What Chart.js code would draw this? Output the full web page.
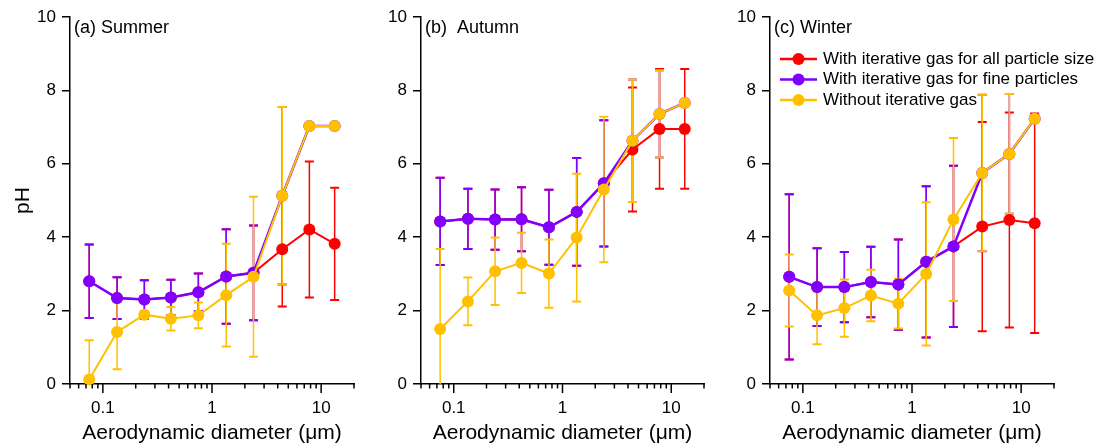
<!DOCTYPE html>
<html>
<head>
<meta charset="utf-8">
<script src="https://cdn.jsdelivr.net/npm/chart.js@4.4.1/dist/chart.umd.min.js"></script>
<style>
  html, body { margin: 0; padding: 0; background: #fff; }
  #wrap { position: relative; width: 1102px; height: 446px; overflow: hidden; }
  .panel { position: absolute; top: 0; height: 446px; }
</style>
</head>
<body>
<div id="wrap">
  <div class="panel" style="left:0;width:370px"><canvas id="summer" width="370" height="446"></canvas></div>
  <div class="panel" style="left:370px;width:360px"><canvas id="autumn" width="360" height="446"></canvas></div>
  <div class="panel" style="left:730px;width:372px"><canvas id="winter" width="372" height="446"></canvas></div>
</div>
<script>
// aerodynamic diameter (um), stage midpoints
const sizes = [0.075, 0.135, 0.24, 0.42, 0.75, 1.35, 2.4, 4.4, 7.8, 13.3];

const seriesLabels = [
  'With iterative gas for all particle size',
  'With iterative gas for fine particles',
  'Without iterative gas'
];
const seriesColors = ['#ff0000', '#8000ff', '#ffc000'];

// x ticks (log axis), only decades carry a label
const xTickValues = [0.05, 0.06, 0.07, 0.08, 0.09, 0.1, 0.2, 0.3, 0.4, 0.5, 0.6, 0.7, 0.8, 0.9,
  1, 2, 3, 4, 5, 6, 7, 8, 9, 10, 20];
const xMajorTicks = [0.1, 1, 10];
const yTickValues = [0, 2, 4, 6, 8, 10];

// Summer
const allSummer = [2.80, 2.34, 2.30, 2.36, 2.50, 2.93, 3.03, 3.67, 4.21, 3.82];
const allSummerErr = [1.00, 0.57, 0.53, 0.48, 0.51, 1.29, 1.29, 1.56, 1.85, 1.53];
const fineSummer = [2.80, 2.34, 2.30, 2.36, 2.50, 2.93, 3.03, 5.13, 7.03, 7.03];
const fineSummerErr = [1.00, 0.57, 0.53, 0.48, 0.51, 1.29, 1.29, 2.42, 0.05, 0.05];
const noneSummer = [0.12, 1.42, 1.89, 1.78, 1.87, 2.42, 2.92, 5.13, 7.03, 7.03];
const noneSummerErr = [1.07, 1.02, 0.10, 0.32, 0.35, 1.40, 2.18, 2.42, 0.05, 0.05];

// Autumn
const allAutumn = [4.43, 4.50, 4.48, 4.49, 4.27, 4.69, 5.47, 6.39, 6.95, 6.95];
const allAutumnErr = [1.19, 0.82, 0.82, 0.87, 1.02, 1.47, 1.72, 1.69, 1.63, 1.63];
const fineAutumn = [4.43, 4.50, 4.48, 4.49, 4.27, 4.69, 5.47, 6.63, 7.36, 7.66];
const fineAutumnErr = [1.19, 0.82, 0.82, 0.87, 1.02, 1.47, 1.72, 1.67, 1.19, 0.05];
const noneAutumn = [1.50, 2.25, 3.07, 3.30, 3.01, 3.99, 5.30, 6.63, 7.36, 7.66];
const noneAutumnErr = [2.18, 0.65, 0.92, 0.82, 0.93, 1.74, 1.98, 1.67, 1.19, 0.05];

// Winter
const allWinter = [2.92, 2.64, 2.64, 2.78, 2.71, 3.33, 3.75, 4.29, 4.47, 4.38];
const allWinterErr = [2.25, 1.06, 0.96, 0.96, 1.23, 2.06, 2.20, 2.85, 2.93, 2.99];
const fineWinter = [2.92, 2.64, 2.64, 2.78, 2.71, 3.33, 3.75, 5.75, 6.27, 7.23];
const fineWinterErr = [2.25, 1.06, 0.96, 0.96, 1.23, 2.06, 2.20, 2.13, 1.63, 0.08];
const noneWinter = [2.55, 1.87, 2.07, 2.41, 2.19, 3.00, 4.48, 5.75, 6.27, 7.23];
const noneWinterErr = [0.98, 0.79, 0.78, 0.70, 0.68, 1.95, 2.22, 2.13, 1.63, 0.08];

const FONT = 'Arial, "Liberation Sans", sans-serif';
Chart.defaults.font.family = FONT;
Chart.defaults.color = '#000';

// error bars, drawn under the lines, red first
const errorBarPlugin = {
  id: 'errorBars',
  beforeDatasetsDraw(chart) {
    const { ctx, chartArea, scales: { x, y } } = chart;
    ctx.save();
    ctx.beginPath();
    ctx.rect(chartArea.left, chartArea.top, chartArea.right - chartArea.left, chartArea.bottom - chartArea.top);
    ctx.clip();
    for (let d = chart.data.datasets.length - 1; d >= 0; d--) {
      const ds = chart.data.datasets[d];
      ctx.strokeStyle = ds.borderColor;
      ds.data.forEach((p, i) => {
        const e = ds.errors[i];
        const px = x.getPixelForValue(p.x);
        const top = y.getPixelForValue(p.y + e);
        const bot = y.getPixelForValue(p.y - e);
        ctx.lineWidth = 1.5;
        ctx.beginPath();
        ctx.moveTo(px, top);
        ctx.lineTo(px, bot);
        ctx.stroke();
        ctx.lineWidth = 2;
        ctx.beginPath();
        ctx.moveTo(px - 4.5, top);
        ctx.lineTo(px + 4.5, top);
        ctx.moveTo(px - 4.5, bot);
        ctx.lineTo(px + 4.5, bot);
        ctx.stroke();
      });
    }
    ctx.restore();
  }
};

// log tick marks, panel tag and the legend
const decorPlugin = {
  id: 'decor',
  afterDraw(chart, args, opts) {
    const { ctx, chartArea, scales: { x } } = chart;
    ctx.save();
    ctx.strokeStyle = '#000';
    ctx.lineWidth = 1.5;
    xTickValues.forEach(v => {
      const px = x.getPixelForValue(v);
      const len = xMajorTicks.includes(v) ? 9 : 4.5;
      ctx.beginPath();
      ctx.moveTo(px, chartArea.bottom);
      ctx.lineTo(px, chartArea.bottom + len);
      ctx.stroke();
    });

    ctx.fillStyle = '#000';
    ctx.font = '18px ' + FONT;
    ctx.textBaseline = 'alphabetic';
    ctx.textAlign = 'left';
    ctx.fillText(opts.tag, chartArea.left + 4, chartArea.top + 16);

    if (opts.legend) {
      const lx = chartArea.left + 10;
      ctx.font = '17px ' + FONT;
      ctx.textBaseline = 'middle';
      seriesLabels.forEach((lab, k) => {
        const yy = chartArea.top + 42 + k * 20.5;
        ctx.strokeStyle = seriesColors[k];
        ctx.lineWidth = 2.5;
        ctx.beginPath();
        ctx.moveTo(lx, yy);
        ctx.lineTo(lx + 37, yy);
        ctx.stroke();
        ctx.fillStyle = seriesColors[k];
        ctx.beginPath();
        ctx.arc(lx + 18.5, yy, 6, 0, Math.PI * 2);
        ctx.fill();
        ctx.fillStyle = '#000';
        ctx.fillText(lab, lx + 43, yy);
      });
    }
    ctx.restore();
  }
};

function series(values, errors, k, width) {
  return {
    label: seriesLabels[k],
    data: values.map((v, i) => ({ x: sizes[i], y: v })),
    errors: errors,
    borderColor: seriesColors[k],
    backgroundColor: seriesColors[k],
    pointBackgroundColor: seriesColors[k],
    pointBorderWidth: 0,
    pointRadius: 6,
    borderWidth: width,
    clip: false
  };
}

function makeChart(id, tag, all, allErr, fine, fineErr, none, noneErr, cfg) {
  new Chart(document.getElementById(id), {
    type: 'line',
    data: {
      // first dataset is drawn on top
      datasets: [
        series(none, noneErr, 2, 2),
        series(fine, fineErr, 1, 2.5),
        series(all, allErr, 0, 2)
      ]
    },
    options: {
      responsive: false,
      animation: false,
      devicePixelRatio: 1,
      layout: { padding: { top: 17, right: cfg.padRight, bottom: 0, left: 0 } },
      plugins: {
        legend: { display: false },
        tooltip: { enabled: false },
        decor: { tag: tag, legend: cfg.legend }
      },
      scales: {
        x: {
          type: 'logarithmic',
          min: 0.05,
          max: 20,
          afterBuildTicks: s => { s.ticks = xTickValues.map(v => ({ value: v })); },
          afterFit: s => { s.height = 62; },
          grid: { display: false, drawTicks: false },
          border: { display: true, color: '#000', width: 1.5 },
          ticks: {
            autoSkip: false,
            maxRotation: 0,
            minRotation: 0,
            padding: 14,
            font: { size: 17 },
            color: '#000',
            callback: v => xMajorTicks.includes(v) ? String(v) : ''
          },
          title: {
            display: true,
            text: 'Aerodynamic diameter (μm)',
            font: { size: 21 },
            color: '#000',
            padding: 0
          }
        },
        y: {
          min: 0,
          max: 10,
          afterBuildTicks: s => { s.ticks = yTickValues.map(v => ({ value: v })); },
          afterFit: s => { s.width = cfg.axisWidth; },
          grid: { display: true, drawOnChartArea: false, drawTicks: true, tickLength: 8, color: '#000', lineWidth: 1.5 },
          border: { display: true, color: '#000', width: 1.5 },
          ticks: { padding: 6, font: { size: 17 }, color: '#000' },
          title: {
            display: cfg.yTitle,
            text: 'pH',
            font: { size: 21 },
            color: '#000',
            padding: { top: 11, bottom: 0 }
          }
        }
      }
    },
    plugins: [errorBarPlugin, decorPlugin]
  });
}

makeChart('summer', '(a) Summer', allSummer, allSummerErr, fineSummer, fineSummerErr, noneSummer, noneSummerErr,
  { axisWidth: 70, padRight: 16, yTitle: true, legend: false });
makeChart('autumn', '(b)  Autumn', allAutumn, allAutumnErr, fineAutumn, fineAutumnErr, noneAutumn, noneAutumnErr,
  { axisWidth: 51, padRight: 26, yTitle: false, legend: false });
makeChart('winter', '(c) Winter', allWinter, allWinterErr, fineWinter, fineWinterErr, noneWinter, noneWinterErr,
  { axisWidth: 40, padRight: 48, yTitle: false, legend: true });
</script>
</body>
</html>
